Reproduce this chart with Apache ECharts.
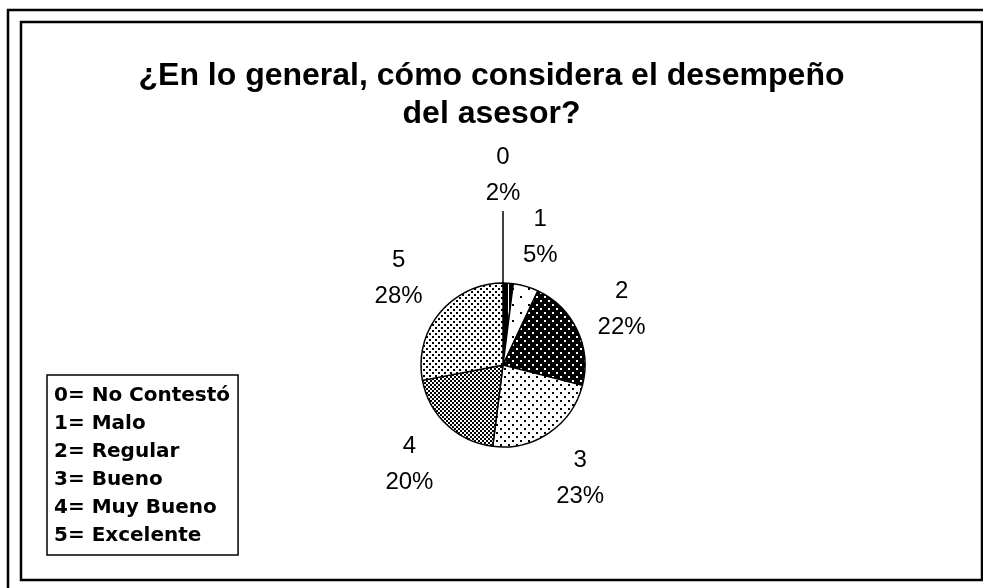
<!DOCTYPE html>
<html>
<head>
<meta charset="utf-8">
<script src="https://cdn.jsdelivr.net/npm/echarts@6/dist/echarts.min.js"></script>
<style>
  html, body { margin: 0; padding: 0; background: #fff; }
  #chart { width: 983px; height: 588px; }
</style>
</head>
<body>
<div id="chart"></div>
<script>
// answers (pie slices) and their share in percent
const categories = ['0', '1', '2', '3', '4', '5']
const values = [2, 5, 22, 23, 20, 28]
const legendNames = ['No Contestó', 'Malo', 'Regular', 'Bueno', 'Muy Bueno', 'Excelente']
const titleText = '¿En lo general, cómo considera el desempeño\ndel asesor?'

const cx = 503
const cy = 365
const radius = 82
const leadLen = 72

// black & white fill patterns like the old office chart
function makePattern(size, bg, fg, rects) {
  const c = document.createElement('canvas')
  c.width = size[0]
  c.height = size[1]
  const ctx = c.getContext('2d')
  ctx.fillStyle = bg
  ctx.fillRect(0, 0, size[0], size[1])
  ctx.fillStyle = fg
  rects.forEach(function (r) {
    ctx.fillRect(r[0], r[1], r[2], r[3])
  })
  return { image: c, repeat: 'repeat' }
}

const patterns = [
  makePattern([6, 2], '#000', '#fff', [[4, 0, 1, 2]]),
  makePattern([16, 16], '#fff', '#000', [[0, 0, 2, 2], [8, 8, 2, 2]]),
  makePattern([8, 8], '#000', '#fff', [[0, 0, 2, 2], [4, 4, 2, 2]]),
  makePattern([8, 8], '#fff', '#000', [[0, 0, 2, 2], [4, 4, 2, 2]]),
  makePattern([4, 4], '#000', '#fff', [[0, 0, 2, 2], [2, 2, 2, 2]]),
  makePattern([6, 6], '#fff', '#000', [[0, 0, 2, 2], [3, 3, 2, 2]])
]

// middle angle of every slice, clockwise from 12 o'clock
const total = values.reduce(function (a, b) { return a + b }, 0)
const midAngle = []
let acc = 0
values.forEach(function (v) {
  midAngle.push(((acc + v / 2) / total) * Math.PI * 2)
  acc += v
})

const pieData = categories.map(function (name, i) {
  const item = {
    name: name,
    value: values[i],
    itemStyle: { color: patterns[i] }
  }
  if (i === 0) {
    item.labelLine = {
      show: true,
      length: leadLen,
      length2: 0,
      lineStyle: { color: '#000', width: 1.5 }
    }
  }
  return item
})

const chart = echarts.init(document.getElementById('chart'))

const option = {
  animation: false,
  backgroundColor: '#fff',
  title: {
    text: titleText,
    left: 'center',
    top: 57,
    padding: 0,
    textStyle: {
      fontFamily: 'Liberation Sans',
      fontWeight: 'bold',
      fontSize: 32,
      lineHeight: 38,
      color: '#000'
    }
  },
  legend: {
    orient: 'vertical',
    left: 47,
    top: 375,
    padding: [9, 8, 8, 1],
    itemGap: 5,
    itemWidth: 0,
    itemHeight: 0,
    selectedMode: false,
    borderColor: '#000',
    borderWidth: 1.5,
    data: categories,
    formatter: function (name) {
      return name + '= ' + legendNames[categories.indexOf(name)]
    },
    textStyle: {
      fontFamily: 'DejaVu Sans',
      fontWeight: 'bold',
      fontSize: 20,
      lineHeight: 23,
      color: '#000'
    }
  },
  graphic: [
    {
      type: 'rect',
      shape: { x: 8, y: 10, width: 1100, height: 700 },
      style: { fill: 'none', stroke: '#000', lineWidth: 2.5 }
    },
    {
      type: 'rect',
      shape: { x: 21, y: 22, width: 961, height: 558 },
      style: { fill: 'none', stroke: '#000', lineWidth: 2.5 }
    }
  ],
  series: [
    {
      type: 'pie',
      center: [cx, cy],
      radius: radius,
      startAngle: 90,
      clockwise: true,
      avoidLabelOverlap: false,
      itemStyle: { borderColor: '#000', borderWidth: 1.5 },
      label: {
        show: true,
        position: 'outside',
        formatter: '{b}\n{c}%',
        fontFamily: 'Liberation Sans',
        fontSize: 24,
        lineHeight: 36,
        color: '#000'
      },
      labelLine: { show: false, length: 12, length2: 0 },
      emphasis: { disabled: true },
      labelLayout: function (p) {
        const i = p.dataIndex
        const a = midAngle[i]
        const dx = Math.sin(a)
        const dy = -Math.cos(a)
        const w = p.labelRect.width
        const h = p.labelRect.height
        if (i === 0) {
          // label straight above the slice, vertical leader line
          const lx = cx
          const y0 = cy - radius
          const y1 = y0 - leadLen
          return {
            x: lx,
            y: y1 - h / 2,
            align: 'center',
            verticalAlign: 'middle',
            labelLinePoints: [[lx, y0], [lx, y1], [lx, y1]]
          }
        }
        const d = radius + 12 + Math.abs(dx) * w / 2 + Math.abs(dy) * h / 2
        return {
          x: cx + dx * d,
          y: cy + dy * d,
          align: 'center',
          verticalAlign: 'middle'
        }
      },
      data: pieData
    }
  ]
}

chart.setOption(option)
</script>
</body>
</html>
